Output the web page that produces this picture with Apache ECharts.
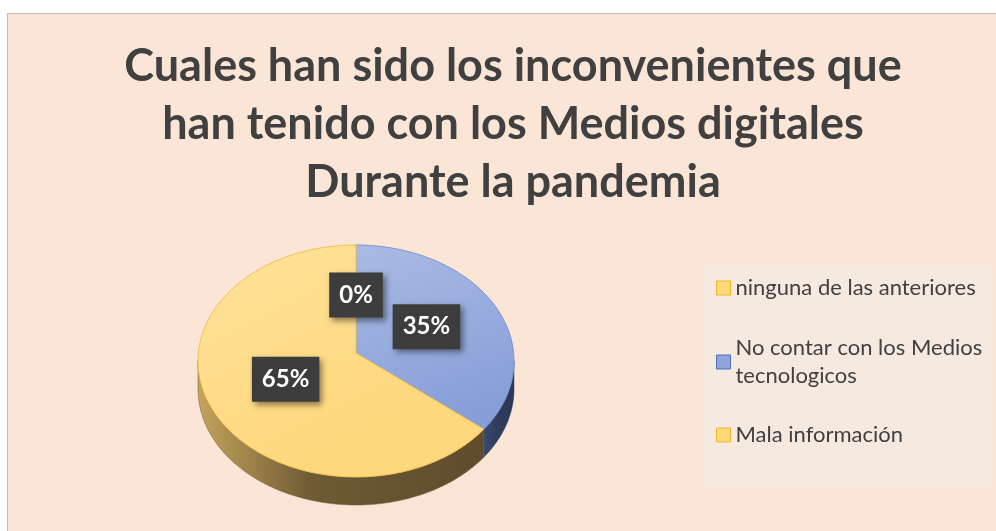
<!DOCTYPE html>
<html>
<head>
<meta charset="utf-8">
<script src="https://cdn.jsdelivr.net/npm/echarts@6/dist/echarts.min.js"></script>
<style>
  html, body { margin: 0; padding: 0; background: #fff; overflow: hidden; }
  #chart {
    position: absolute; left: 7px; top: 13px;
    width: 1010px; height: 520px;
    border-left: 1px solid #bdbdbd; border-top: 1px solid #bdbdbd;
  }
</style>
</head>
<body>
<div id="chart"></div>
<script>
//--------------------- Data ---------------------------//
const categories = [
  'ninguna de las anteriores',
  'No contar con los Medios tecnologicos',
  'Mala información'
];
const values = [0, 35, 65]; // percent of answers
const legendLabels = [
  'ninguna de las anteriores',
  'No contar con los Medios\ntecnologicos',
  'Mala información'
];

//--------------------- Styles ---------------------------//
const topColors = [
  ['#FFE29A', '#FFD77C'],
  ['#AABAE4', '#889ED8'],
  ['#FFE29A', '#FFD77C']
];
const sideColors = [
  ['#C4A45C', '#6E5A34', '#5F4C2C'],
  ['#3A4A70', '#2F3D5E', '#2B3756'],
  ['#C4A45C', '#6E5A34', '#5F4C2C']
];
const edgeColors = ['#F2C14E', '#7C95D2', '#F2C14E'];
const markerColors = ['#FFD97A', '#8FA4DB', '#FFD97A'];
const markerBorders = ['#F0B429', '#4F6FBF', '#F0B429'];

const pie = { cx: 348, cy: 347, apexY: 339, rx: 158, ry: 116, depth: 28 };

//--------------------- Helpers ---------------------------//
const total = values.reduce((a, b) => a + b, 0);
const startAngles = [];
values.reduce((acc, v, i) => { startAngles[i] = acc / total * Math.PI * 2; return acc + v; }, 0);

// angle measured clockwise from 12 o'clock
function ellPoint(a, dy) {
  return [pie.cx + pie.rx * Math.sin(a), pie.cy - pie.ry * Math.cos(a) + (dy || 0)];
}

function arcPoints(a0, a1, dy) {
  const pts = [];
  const n = Math.max(2, Math.ceil((a1 - a0) / (Math.PI / 180)));
  for (let k = 0; k <= n; k++) pts.push(ellPoint(a0 + (a1 - a0) * k / n, dy));
  return pts;
}

function renderSlice(i) {
  return function (params, api) {
    const v = api.value(0);
    const a0 = startAngles[i];
    const a1 = a0 + v / total * Math.PI * 2;
    const children = [];

    // visible side: front half of the cylinder
    const s0 = Math.max(a0, Math.PI / 2);
    const s1 = Math.min(a1, Math.PI * 1.5);
    if (s1 > s0) {
      const topArc = arcPoints(s0, s1, 0);
      const botArc = arcPoints(s0, s1, pie.depth).reverse();
      children.push({
        type: 'polygon',
        shape: { points: topArc.concat(botArc) },
        style: {
          fill: new echarts.graphic.LinearGradient(1, 0, 0, 0, [
            { offset: 0, color: sideColors[i][2] },
            { offset: 0.6, color: sideColors[i][1] },
            { offset: 1, color: sideColors[i][0] }
          ]),
          stroke: sideColors[i][1], lineWidth: 0.5
        }
      });
    }

    // top face
    if (a1 > a0) {
      const pts = [[pie.cx, pie.apexY]].concat(arcPoints(a0, a1, 0));
      children.push({
        type: 'polygon',
        shape: { points: pts },
        style: {
          fill: new echarts.graphic.LinearGradient(0, 0, 0.4, 1, [
            { offset: 0, color: topColors[i][0] },
            { offset: 1, color: topColors[i][1] }
          ]),
          stroke: edgeColors[i], lineWidth: 1
        }
      });
    }

    // data label
    const mid = (a0 + a1) / 2;
    children.push({
      type: 'text',
      x: pie.cx + 0.5 * pie.rx * Math.sin(mid),
      y: pie.apexY - 0.5 * pie.ry * Math.cos(mid),
      z2: 10,
      style: {
        text: Math.round(v / total * 100) + '%',
        fill: '#fff',
        font: 'bold 24px Lato',
        align: 'center',
        verticalAlign: 'middle',
        backgroundColor: '#3d3d3d',
        padding: [11, 10, 10, 10],
        shadowBlur: 6,
        shadowColor: 'rgba(0,0,0,0.45)',
        shadowOffsetX: 3,
        shadowOffsetY: 3
      }
    });
    return { type: 'group', children: children };
  };
}

//--------------------- Chart ---------------------------//
const chart = echarts.init(document.getElementById('chart'));

// labels of empty slices sit on top of the others
const series = categories.map((name, i) => ({
  type: 'custom',
  name: name,
  coordinateSystem: 'none',
  renderItem: renderSlice(i),
  itemStyle: { color: markerColors[i] },
  data: [[values[i]]],
  z: values[i] === 0 ? 5 : 2 + i
}));

const legendTops = [260, 306, 407];
const legend = categories.map((name, i) => ({
  data: [{
    name: name,
    itemStyle: { color: markerColors[i], borderColor: markerBorders[i], borderWidth: 1 },
    textStyle: i === 1 ? { padding: [28, 0, 0, 0] } : {}
  }],
  left: 708,
  top: legendTops[i],
  padding: 0,
  itemWidth: 14,
  itemHeight: 14,
  icon: 'rect',
  selectedMode: false,
  formatter: () => legendLabels[i],
  textStyle: { fontFamily: 'Lato', fontSize: 22, color: '#404040', lineHeight: 28 }
}));

chart.setOption({
  backgroundColor: '#FBE5D7',
  animation: false,
  title: {
    text: 'Cuales han sido los inconvenientes que\nhan tenido con los Medios digitales\nDurante la pandemia',
    left: 'center',
    top: 18,
    textStyle: { fontFamily: 'Lato', fontWeight: 'bold', fontSize: 45, lineHeight: 58, color: '#404040' }
  },
  graphic: [{
    type: 'rect',
    shape: { x: 695, y: 251, width: 290, height: 222 },
    style: { fill: '#F6E9E0' },
    z: -1
  }],
  legend: legend,
  series: series
});
</script>
</body>
</html>
